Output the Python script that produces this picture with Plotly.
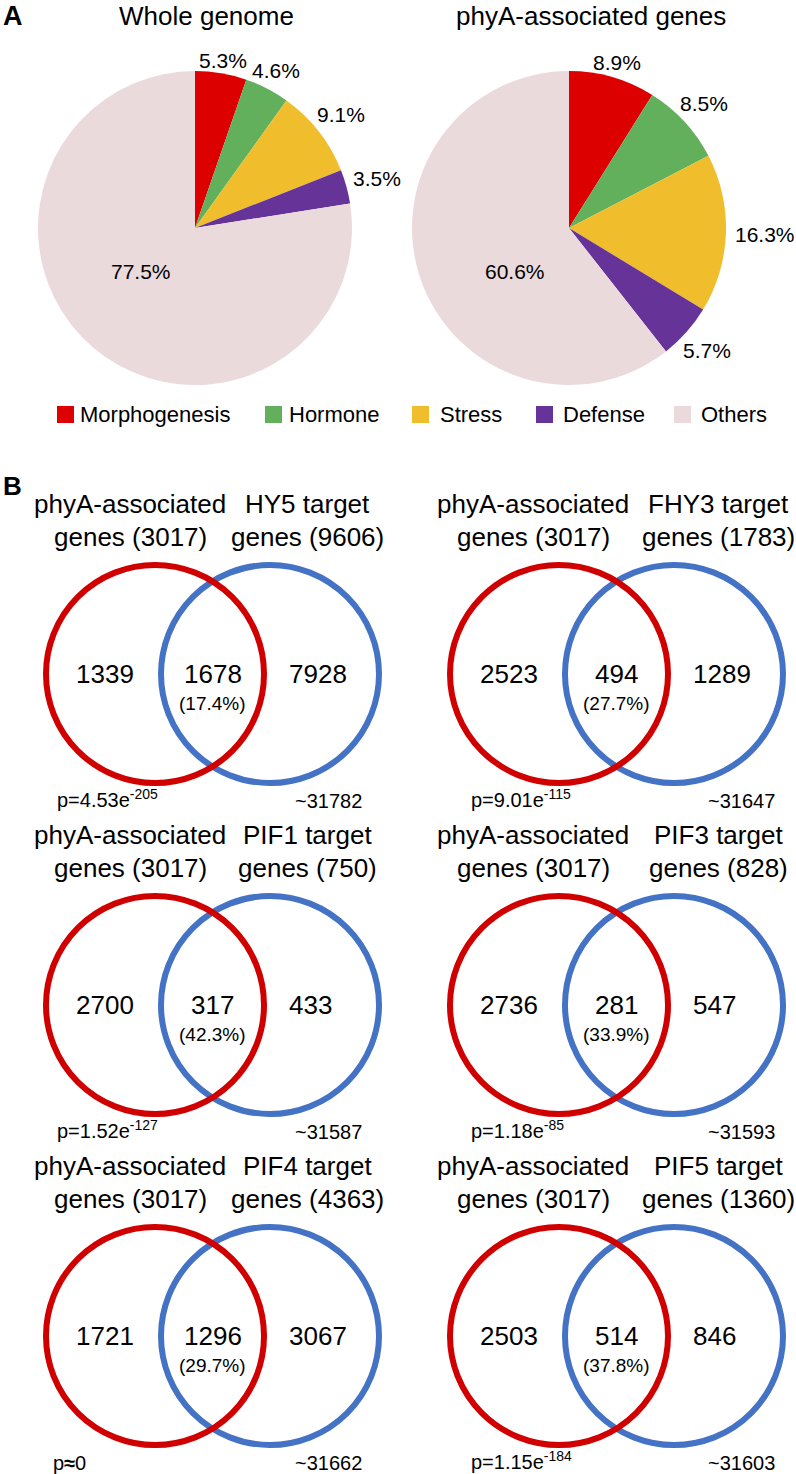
import math
import plotly.graph_objects as go

# ---------------- data ----------------
pie_categories = ["Morphogenesis", "Hormone", "Stress", "Defense", "Others"]
pie_colors = ["#DD0000", "#62B05B", "#F0BE2C", "#663399", "#EBDADB"]
whole_genome_pct = [5.3, 4.6, 9.1, 3.5, 77.5]
phya_genes_pct = [8.9, 8.5, 16.3, 5.7, 60.6]
pie_titles = ["Whole genome", "phyA-associated genes"]

venn_targets = ["HY5", "FHY3", "PIF1", "PIF3", "PIF4", "PIF5"]
phya_total = 3017
target_totals = [9606, 1783, 750, 828, 4363, 1360]
phya_only = [1339, 2523, 2700, 2736, 1721, 2503]
overlap = [1678, 494, 317, 281, 1296, 514]
target_only = [7928, 1289, 433, 547, 3067, 846]
overlap_pct = [17.4, 27.7, 42.3, 33.9, 29.7, 37.8]
p_mantissa = ["4.53", "9.01", "1.52", "1.18", None, "1.15"]
p_exponent = ["-205", "-115", "-127", "-85", None, "-184"]
background_total = [31782, 31647, 31587, 31593, 31662, 31603]

# ---------------- layout constants ----------------
W, H = 796, 1474
FONT = "Liberation Sans, Arial, sans-serif"
VENN_RED = "#D00000"
VENN_BLUE = "#4472C4"
PIE_FS = 21

fig = go.Figure()

# hidden full-page cartesian axes in pixel units
fig.add_trace(go.Scatter(x=[0, W], y=[0, H], mode="markers",
                         marker=dict(opacity=0), hoverinfo="skip", showlegend=False))

annotations = []
shapes = []

def ann(x, y, text, size, xanchor="center", bold=False, yanchor="middle"):
    annotations.append(dict(
        x=x, y=y, xref="x", yref="y", text=f"<b>{text}</b>" if bold else text,
        showarrow=False, xanchor=xanchor, yanchor=yanchor,
        font=dict(family=FONT, size=size, color="black")))

def text_halfwidth(txt, size):
    w = 0
    for ch in txt:
        w += 0.556 if ch.isdigit() else 0.278 if ch == "." else 0.889
    return w * size / 2

# ---------------- pies ----------------
pie_centers = [(195, 228), (569, 228)]
R = 157
for (cx, cy), vals in zip(pie_centers, [whole_genome_pct, phya_genes_pct]):
    ycb = H - cy
    fig.add_trace(go.Pie(
        labels=pie_categories, values=vals, sort=False, direction="clockwise",
        rotation=0,
        marker=dict(colors=pie_colors, line=dict(width=0)),
        textinfo="none",
        domain=dict(x=[(cx - R) / W, (cx + R) / W], y=[(ycb - R) / H, (ycb + R) / H]),
        showlegend=False, hoverinfo="label+value",
    ))
    # slice labels: small slices outside along the slice bisector, "Others" inside
    total = sum(vals)
    cum = 0.0
    for k, v in enumerate(vals):
        mid = (cum + v / 2) / total * 2 * math.pi
        cum += v
        txt = f"{v:.1f}%"
        if k == len(vals) - 1:
            ang = math.radians(231)
            d = 0.44 * R
        else:
            ang = mid
            d = R + 9 + text_halfwidth(txt, PIE_FS) * abs(math.sin(mid))
        ann(cx + d * math.sin(ang), cy - d * math.cos(ang), txt, PIE_FS)

ann(1, 16, "A", 27, xanchor="left", bold=True)
ann(206, 16, pie_titles[0], 26)
ann(591, 16, pie_titles[1], 26)

# legend (one row)
leg_sq_x = [57, 265, 412, 536, 674]
leg_tx_x = [80, 289, 440, 563, 701]
for name, col, sx, tx in zip(pie_categories, pie_colors, leg_sq_x, leg_tx_x):
    shapes.append(dict(type="rect", xref="x", yref="y", x0=sx, x1=sx + 17, y0=406, y1=423,
                       fillcolor=col, line=dict(width=0)))
    ann(tx - 2, 414, name, 22, xanchor="left")

# ---------------- venn diagrams ----------------
ann(1, 486, "B", 26, xanchor="left", bold=True)

col_red_x = [155, 559]
col_ltitle_x = [130, 533]
col_rtitle_x = [307, 718]
col_p_x = [55, 469]
col_bg_x = [364, 777]
row_y = [674, 1005, 1336]
CR = 109
DX = 115

for i, tgt in enumerate(venn_targets):
    c, r = i % 2, i // 2
    rx = col_red_x[c]
    bx = rx + DX
    cy = row_y[r]
    shapes.append(dict(type="circle", xref="x", yref="y", x0=bx - CR, x1=bx + CR,
                       y0=cy - CR, y1=cy + CR, line=dict(color=VENN_BLUE, width=6)))
    shapes.append(dict(type="circle", xref="x", yref="y", x0=rx - CR, x1=rx + CR,
                       y0=cy - CR, y1=cy + CR, line=dict(color=VENN_RED, width=6)))
    ann(col_ltitle_x[c], cy - 170, "phyA-associated", 26)
    ann(col_ltitle_x[c], cy - 137, f"genes ({phya_total})", 26)
    ann(col_rtitle_x[c], cy - 170, f"{tgt} target", 26)
    ann(col_rtitle_x[c], cy - 137, f"genes ({target_totals[i]})", 26)
    ann(rx - 50, cy, f"{phya_only[i]}", 26)
    ann((rx + bx) / 2, cy, f"{overlap[i]}", 26)
    ann(bx + 17, cy, f"{target_only[i]}", 26, xanchor="left")
    ann((rx + bx) / 2, cy + 29, f"({overlap_pct[i]:.1f}%)", 19)
    if p_mantissa[i] is None:
        ann(col_p_x[c] - 4, cy + 127, "p<b>≈</b>0", 20, xanchor="left")
    else:
        ann(col_p_x[c], cy + 124, f"p={p_mantissa[i]}e<sup>{p_exponent[i]}</sup>", 20,
            xanchor="left")
    ann(col_bg_x[c], cy + 127, f"~{background_total[i]}", 20, xanchor="right")

fig.update_layout(
    width=W, height=H, margin=dict(l=0, r=0, t=0, b=0),
    paper_bgcolor="white", plot_bgcolor="white",
    xaxis=dict(range=[0, W], visible=False, fixedrange=True),
    yaxis=dict(range=[H, 0], visible=False, fixedrange=True),
    shapes=shapes, annotations=annotations, showlegend=False,
    font=dict(family=FONT, color="black"),
)

fig.write_html("out.html", config={"displayModeBar": False},
               post_script="document.body.style.margin='0px';document.body.style.overflow='hidden';")
